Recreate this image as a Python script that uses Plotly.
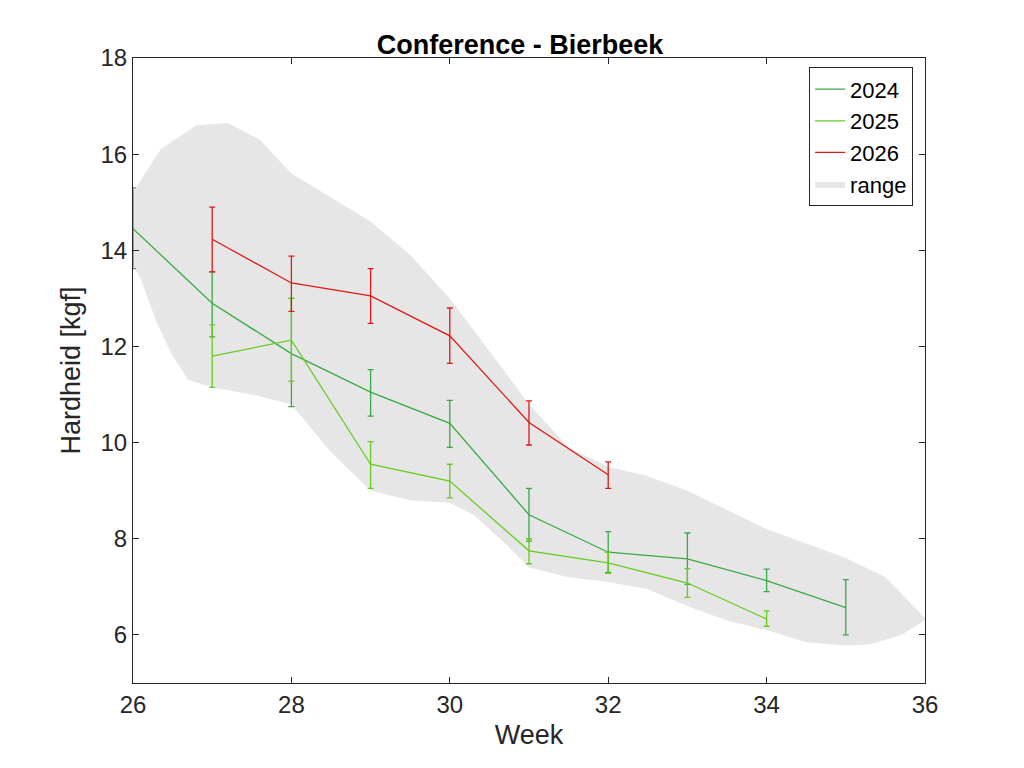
import plotly.graph_objects as go

# range band (upper edge then lower edge back)
range_upper_x = [26, 26.35, 26.8, 27.2, 27.6, 28, 28.5, 29, 29.5, 30, 30.5, 31, 31.5, 32, 32.5, 33, 33.5, 34, 34.5, 35, 35.5, 36]
range_upper_y = [15.2, 16.1, 16.6, 16.65, 16.3, 15.6, 15.1, 14.6, 13.9, 13.0, 11.9, 10.8, 9.9, 9.5, 9.3, 9.0, 8.6, 8.2, 7.9, 7.6, 7.2, 6.35]
range_lower_x = [36, 35.7, 35.3, 35, 34.5, 34, 33.5, 33, 32.5, 32, 31.5, 31, 30.7, 30.3, 30, 29.5, 29, 28.5, 28, 27.5, 27, 26.7, 26.5, 26.3, 26.1, 26]
range_lower_y = [6.3, 6.0, 5.8, 5.78, 5.85, 6.1, 6.3, 6.6, 6.95, 7.1, 7.2, 7.4, 7.9, 8.5, 8.75, 8.8, 9.0, 9.8, 10.8, 11.0, 11.15, 11.3, 11.8, 12.5, 13.4, 13.7]

weeks_2024 = [26, 27, 28, 29, 30, 31, 32, 33, 34, 35]
mean_2024 = [14.45, 12.9, 11.85, 11.05, 10.4, 8.5, 7.72, 7.58, 7.13, 6.57]
low_2024 = [13.62, 12.2, 10.75, 10.55, 9.9, 7.95, 7.3, 7.05, 6.9, 6.0]
high_2024 = [15.3, 13.55, 13.0, 11.52, 10.88, 9.05, 8.15, 8.12, 7.37, 7.15]

weeks_2025 = [27, 28, 29, 30, 31, 32, 33, 34]
mean_2025 = [11.8, 12.13, 9.55, 9.2, 7.75, 7.5, 7.08, 6.33]
low_2025 = [11.15, 11.28, 9.05, 8.85, 7.48, 7.28, 6.78, 6.18]
high_2025 = [12.45, 13.0, 10.02, 9.55, 8.0, 7.72, 7.38, 6.5]

weeks_2026 = [27, 28, 29, 30, 31, 32]
mean_2026 = [14.23, 13.32, 13.05, 12.22, 10.42, 9.33]
low_2026 = [13.55, 12.73, 12.48, 11.65, 9.95, 9.05]
high_2026 = [14.9, 13.88, 13.62, 12.8, 10.87, 9.6]

fig = go.Figure()

# band first so it sits beneath the lines, but listed last in legend
fig.add_trace(go.Scatter(
    x=range_upper_x + range_lower_x, y=range_upper_y + range_lower_y,
    fill="toself", fillcolor="#e6e6e6", line=dict(width=0),
    mode="lines", name="range", legendrank=2000))

series = [
    ("2024", weeks_2024, mean_2024, low_2024, high_2024, "#3aa845"),
    ("2025", weeks_2025, mean_2025, low_2025, high_2025, "#66cc22"),
    ("2026", weeks_2026, mean_2026, low_2026, high_2026, "#e01818"),
]
for i, (name, x, m, lo, hi, col) in enumerate(series):
    fig.add_trace(go.Scatter(
        x=x, y=m, name=name, mode="lines", line=dict(color=col, width=1.3),
        legendrank=100 + i,
        error_y=dict(type="data", symmetric=False,
                     array=[h - v for h, v in zip(hi, m)],
                     arrayminus=[v - l for v, l in zip(m, lo)],
                     color=col, thickness=1.3, width=3)))

axis_common = dict(showgrid=False, zeroline=False, showline=True, linecolor="#262626",
                   linewidth=1, mirror="ticks", ticks="inside", ticklen=6,
                   tickcolor="#262626", tickfont=dict(size=24, color="#262626"))
fig.update_xaxes(range=[26, 36], dtick=2, title=dict(text="Week", font=dict(size=27, color="#262626"), standoff=8), **axis_common)
fig.update_yaxes(range=[5, 18], tickvals=[6, 8, 10, 12, 14, 16, 18],
                 title=dict(text="Hardheid [kgf]", font=dict(size=27, color="#262626"), standoff=12), **axis_common)

fig.update_layout(
    width=1024, height=768, plot_bgcolor="white", paper_bgcolor="white",
    font=dict(family="Arial, Liberation Sans, sans-serif", color="#262626"),
    margin=dict(l=125, r=107, t=50, b=93, autoexpand=False),
    title=dict(text="<b>Conference - Bierbeek</b>", x=0.5, xanchor="center", y=0.965,
               font=dict(size=27, color="black")),
    legend=dict(x=0.985, y=0.985, xanchor="right", yanchor="top",
                bordercolor="#262626", borderwidth=1, bgcolor="white",
                font=dict(size=22, color="black"), tracegroupgap=0),
    showlegend=True,
)
fig.write_html("out.html")
